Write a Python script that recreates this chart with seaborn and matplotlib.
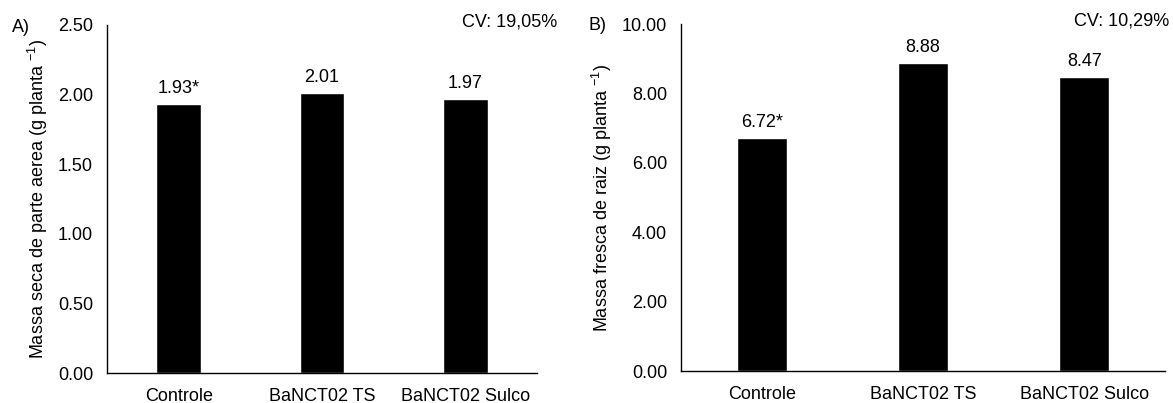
import matplotlib
matplotlib.use("Agg")
import matplotlib.pyplot as plt
import seaborn as sns

# data
tratamentos = ["Controle", "BaNCT02 TS", "BaNCT02 Sulco"]
massa_seca = [1.93, 2.01, 1.97]
massa_fresca_raiz = [6.72, 8.88, 8.47]
rotulos_seca = ["1.93*", "2.01", "1.97"]
rotulos_raiz = ["6.72*", "8.88", "8.47"]
yticks_seca = [0.0, 0.5, 1.0, 1.5, 2.0, 2.5]
yticks_raiz = [0, 2, 4, 6, 8, 10]

FS = 13


def painel(ax, valores, rotulos, yticks, ylabel):
    sns.barplot(x=tratamentos, y=valores, color="black", saturation=1,
                width=0.31, ax=ax)
    ax.bar_label(ax.containers[0], labels=rotulos, padding=5, fontsize=FS)
    ax.set_xlim(-0.5, 2.5)
    ax.set_ylim(yticks[0], yticks[-1])
    ax.set_yticks(yticks)
    ax.set_yticklabels([f"{t:.2f}" for t in yticks])
    ax.set_ylabel(ylabel, fontsize=FS, labelpad=6)
    ax.set_xlabel("")
    ax.tick_params(axis="y", length=0, labelsize=FS, pad=10)
    ax.tick_params(axis="x", length=0, labelsize=FS, pad=11)
    ax.spines["top"].set_visible(False)
    ax.spines["right"].set_visible(False)
    for s in ("left", "bottom"):
        ax.spines[s].set_color("black")
        ax.spines[s].set_linewidth(1)


def main():
    sns.set_style("white")
    plt.rcParams["font.family"] = ["Liberation Sans", "DejaVu Sans"]
    plt.rcParams["text.color"] = "black"
    plt.rcParams["axes.labelcolor"] = "black"
    plt.rcParams["xtick.color"] = "black"
    plt.rcParams["ytick.color"] = "black"

    fig = plt.figure(figsize=(11.73, 4.03), dpi=100)
    ax1 = fig.add_axes([0.0912, 0.0744, 0.3666, 0.8636])
    ax2 = fig.add_axes([0.5806, 0.0794, 0.4126, 0.861])

    painel(ax1, massa_seca, rotulos_seca, yticks_seca,
           "Massa seca de parte aerea (g planta $^{\\mathregular{-1}}$)")
    painel(ax2, massa_fresca_raiz, rotulos_raiz, yticks_raiz,
           "Massa fresca de raiz (g planta $^{\\mathregular{-1}}$)")

    fig.text(12 / 1173, 1 - 28 / 403, "A)", fontsize=FS, va="center")
    fig.text(588 / 1173, 1 - 25 / 403, "B)", fontsize=FS, va="center")
    fig.text(557 / 1173, 1 - 22 / 403, "CV: 19,05%", fontsize=FS,
             ha="right", va="center")
    fig.text(1169 / 1173, 1 - 21 / 403, "CV: 10,29%", fontsize=FS,
             ha="right", va="center")

    fig.savefig("out.png", dpi=100)


if __name__ == "__main__":
    main()
